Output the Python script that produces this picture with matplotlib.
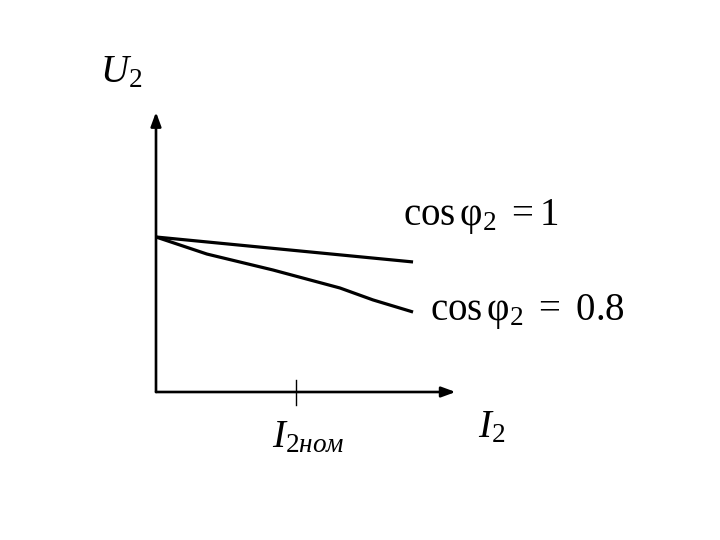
import matplotlib.pyplot as plt

plt.rcParams["mathtext.fontset"] = "custom"
plt.rcParams["mathtext.rm"] = "Liberation Serif"
plt.rcParams["mathtext.it"] = "Liberation Serif:italic"
plt.rcParams["mathtext.bf"] = "Liberation Serif:bold"
plt.rcParams["mathtext.sf"] = "Liberation Serif"
plt.rcParams["font.family"] = ["Liberation Serif", "DejaVu Serif"]

# load current I2 (in units of I2nom) and voltage U2 (in units of U20)
i2_pf1 = [0.0, 1.836]
u2_pf1 = [1.0, 0.839]
i2_pf08 = [0.0, 0.364, 0.836, 1.314, 1.55, 1.836]
u2_pf08 = [1.0, 0.890, 0.787, 0.671, 0.594, 0.516]
i2_nom = 1.0
x_axis_end = 2.14
y_axis_end = 1.806

fig = plt.figure(figsize=(7.2, 5.4), dpi=100)
ax = fig.add_axes([0, 0, 1, 1])
ax.set_xlim(-156 / 140, 564 / 140)
ax.set_ylim(-148 / 155, 392 / 155)
ax.axis("off")

# axes with arrows
arrow = dict(arrowstyle="-|>,head_length=0.6,head_width=0.22", color="black",
             lw=1.9, mutation_scale=14, shrinkA=0, shrinkB=0)
ax.annotate("", xy=(x_axis_end, 0), xytext=(0, 0), arrowprops=arrow)
ax.annotate("", xy=(0, y_axis_end), xytext=(0, 0), arrowprops=arrow)

# nominal current tick
ax.plot([i2_nom, i2_nom], [0.077, -0.084], color="black", lw=1.0)

ax.plot(i2_pf1, u2_pf1, color="black", lw=2.3, solid_capstyle="butt")
ax.plot(i2_pf08, u2_pf08, color="black", lw=2.3, solid_capstyle="butt")

fs = 28
ax.text(-0.4, 2.0, r"$U_{\mathrm{2}}$", fontsize=fs, va="baseline")
ax.text(2.3, -0.29, r"$I_{\mathrm{2}}$", fontsize=fs, va="baseline")
ax.text(0.83, -0.355, r"$I_{\mathrm{2}\mathit{ном}}$", fontsize=fs, va="baseline")
ax.text(1.764, 1.077, r"$\mathrm{cos}\,\mathrm{φ}_{\mathrm{2}}\ \mathrm{=1}$", fontsize=fs, va="baseline")
ax.text(1.957, 0.465, r"$\mathrm{cos}\,\mathrm{φ}_{\mathrm{2}}\ \mathrm{=}\ \mathrm{0.8}$", fontsize=fs, va="baseline")

fig.savefig("out.png", dpi=100)
